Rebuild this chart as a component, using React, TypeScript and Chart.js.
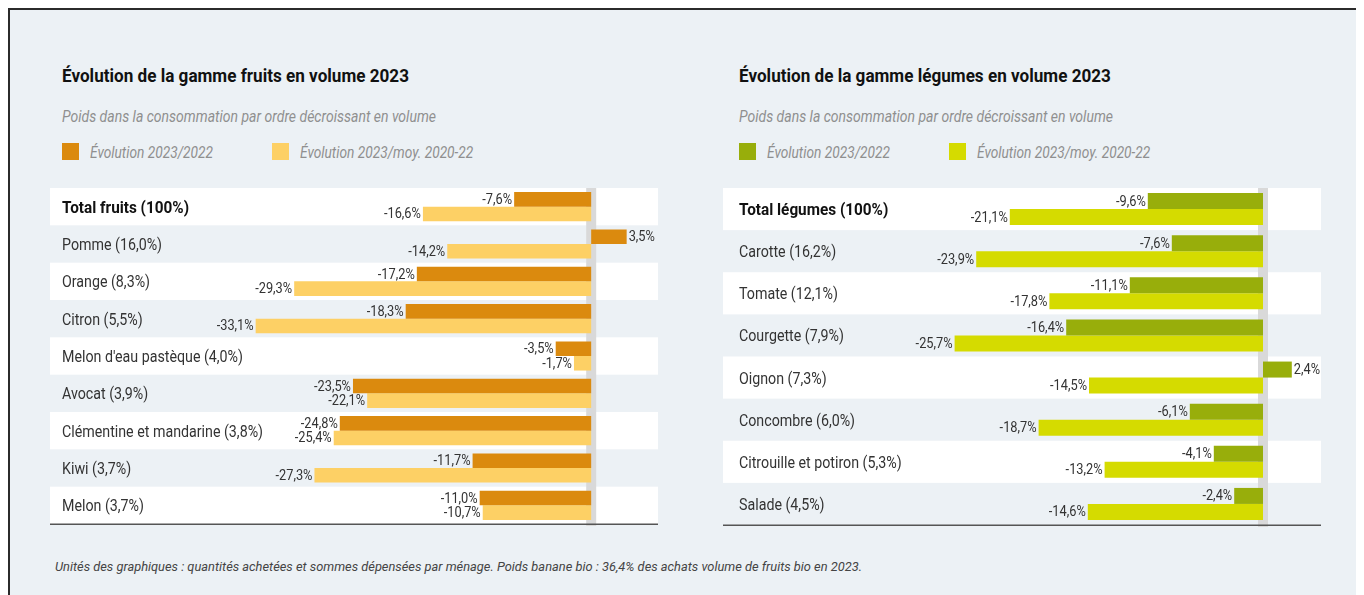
import React, { useEffect, useRef } from "react";
import { Chart, registerables } from "chart.js";

Chart.register(...registerables);

// ---------- DATA ----------
const fruitCategories = [
  "Total fruits (100%)",
  "Pomme (16,0%)",
  "Orange (8,3%)",
  "Citron (5,5%)",
  "Melon d'eau pastèque (4,0%)",
  "Avocat (3,9%)",
  "Clémentine et mandarine (3,8%)",
  "Kiwi (3,7%)",
  "Melon (3,7%)",
];
const fruitEvol2022 = [-7.6, 3.5, -17.2, -18.3, -3.5, -23.5, -24.8, -11.7, -11.0];
const fruitEvolAvg = [-16.6, -14.2, -29.3, -33.1, -1.7, -22.1, -25.4, -27.3, -10.7];

const vegCategories = [
  "Total légumes (100%)",
  "Carotte (16,2%)",
  "Tomate (12,1%)",
  "Courgette (7,9%)",
  "Oignon (7,3%)",
  "Concombre (6,0%)",
  "Citrouille et potiron (5,3%)",
  "Salade (4,5%)",
];
const vegEvol2022 = [-9.6, -7.6, -11.1, -16.4, 2.4, -6.1, -4.1, -2.4];
const vegEvolAvg = [-21.1, -23.9, -17.8, -25.7, -14.5, -18.7, -13.2, -14.6];

const seriesLabels = ["Évolution 2023/2022", "Évolution 2023/moy. 2020-22"];
const fruitTitle = "Évolution de la gamme fruits en volume 2023";
const vegTitle = "Évolution de la gamme légumes en volume 2023";
const subtitleText = "Poids dans la consommation par ordre décroissant en volume";
const footnoteText =
  "Unités des graphiques : quantités achetées et sommes dépensées par ménage. Poids banane bio : 36,4% des achats volume de fruits bio en 2023.";

// ---------- STYLE ----------
const FAM = 'Roboto, "DejaVu Sans", sans-serif';
const BG = "#ecf1f5";
const fruitColors = ["#db8a0e", "#fdd065"];
const vegColors = ["#98ae0b", "#d5db00"];

const TITLE_FONT = `bold 18px ${FAM}`;
const SUB_FONT = `italic 17px ${FAM}`;
const LABEL_FONT = `16px ${FAM}`;
const LABEL_BOLD = `bold 16px ${FAM}`;
const VALUE_FONT = `14px ${FAM}`;
const FOOT_FONT = `italic 13px ${FAM}`;

const fmt = (v: number) => v.toFixed(1).replace(".", ",") + "%";

// condensed look: horizontal scale factors measured from reference text widths
let _mctx: CanvasRenderingContext2D | null = null;
function measure(text: string, font: string) {
  if (!_mctx) _mctx = document.createElement("canvas").getContext("2d");
  _mctx!.font = font;
  return _mctx!.measureText(text).width;
}
function kFor(text: string, font: string, target: number) {
  return target / measure(text, font);
}

type PanelCfg = {
  categories: string[];
  s1: number[];
  s2: number[];
  colors: string[];
  width: number;
  height: number;
  padLeft: number;
  padRight: number;
  padTop: number;
  padBottom: number;
  labelX: number;
  xMin: number;
  xMax: number;
  bandWidth: number;
  catPct: number;
};

function BarPanel({ cfg, style }: { cfg: PanelCfg; style: React.CSSProperties }) {
  const ref = useRef<HTMLCanvasElement | null>(null);
  useEffect(() => {
    if (!ref.current) return;
    const kLabel = kFor("Clémentine et mandarine (3,8%)", LABEL_FONT, 201);
    const kBold = kFor("Total fruits (100%)", LABEL_BOLD, 127);
    const kValue = kFor("-16,6%", VALUE_FONT, 37);

    const scaledText = (ctx: any, text: string, x: number, y: number, k: number, align: string) => {
      ctx.save();
      ctx.translate(x, y);
      ctx.scale(k, 1);
      ctx.textAlign = align;
      ctx.fillText(text, 0, 0);
      ctx.restore();
    };

    const bandsPlugin = {
      id: "bands",
      beforeDraw(chart: any) {
        const { ctx, chartArea, scales } = chart;
        const n = chart.data.labels.length;
        const step = (chartArea.bottom - chartArea.top) / n;
        ctx.save();
        for (let i = 0; i < n; i++) {
          if (i % 2 === 0) {
            ctx.fillStyle = "#ffffff";
            ctx.fillRect(0, chartArea.top + i * step, cfg.bandWidth, step);
          }
        }
        const x0 = scales.x.getPixelForValue(0);
        ctx.fillStyle = "#d9d9d9";
        ctx.fillRect(x0 - 5, chartArea.top, 10, chartArea.bottom - chartArea.top + 2);
        ctx.fillStyle = "#555555";
        ctx.fillRect(0, chartArea.bottom - 0.5, cfg.bandWidth, 1.5);

        // category labels
        ctx.textBaseline = "middle";
        chart.data.labels.forEach((lab: string, i: number) => {
          const py = scales.y.getPixelForValue(i) + 2;
          ctx.font = i === 0 ? LABEL_BOLD : LABEL_FONT;
          ctx.fillStyle = i === 0 ? "#111111" : "#333333";
          scaledText(ctx, lab, cfg.labelX, py, i === 0 ? kBold : kLabel, "left");
        });
        ctx.restore();
      },
      afterDatasetsDraw(chart: any) {
        const ctx = chart.ctx;
        ctx.save();
        ctx.font = VALUE_FONT;
        ctx.fillStyle = "#333333";
        ctx.textBaseline = "middle";
        chart.data.datasets.forEach((ds: any, di: number) => {
          const meta = chart.getDatasetMeta(di);
          meta.data.forEach((el: any, i: number) => {
            const v = ds.data[i];
            const txt = fmt(v);
            if (v < 0) scaledText(ctx, txt, el.x - 2, el.y + 1, kValue, "right");
            else scaledText(ctx, txt, el.x + 2, el.y + 1, kValue, "left");
          });
        });
        ctx.restore();
      },
    };

    const chart = new Chart(ref.current, {
      type: "bar",
      data: {
        labels: cfg.categories,
        datasets: [
          {
            label: seriesLabels[0],
            data: cfg.s1,
            backgroundColor: cfg.colors[0],
            borderWidth: 0,
            categoryPercentage: cfg.catPct,
            barPercentage: 1,
          },
          {
            label: seriesLabels[1],
            data: cfg.s2,
            backgroundColor: cfg.colors[1],
            borderWidth: 0,
            categoryPercentage: cfg.catPct,
            barPercentage: 1,
          },
        ],
      },
      options: {
        indexAxis: "y",
        animation: false,
        responsive: false,
        maintainAspectRatio: false,
        devicePixelRatio: 1,
        layout: {
          padding: {
            left: cfg.padLeft,
            right: cfg.padRight,
            top: cfg.padTop,
            bottom: cfg.padBottom,
          },
        },
        plugins: {
          legend: { display: false },
          tooltip: { enabled: false },
          title: { display: false },
        },
        scales: {
          x: { display: false, min: cfg.xMin, max: cfg.xMax },
          y: { type: "category", display: false },
        },
      } as any,
      plugins: [bandsPlugin],
    });
    return () => chart.destroy();
  }, [cfg]);
  return (
    <canvas
      ref={ref}
      width={cfg.width}
      height={cfg.height}
      style={{ position: "absolute", width: cfg.width, height: cfg.height, ...style }}
    />
  );
}

const fruitCfg: PanelCfg = {
  categories: fruitCategories,
  s1: fruitEvol2022,
  s2: fruitEvolAvg,
  colors: fruitColors,
  width: 620,
  height: 346,
  padLeft: 156,
  padRight: 18,
  padTop: 4,
  padBottom: 6,
  labelX: 12,
  xMin: -38,
  xMax: 6,
  bandWidth: 608,
  catPct: 0.78,
};

const vegCfg: PanelCfg = {
  categories: vegCategories,
  s1: vegEvol2022,
  s2: vegEvolAvg,
  colors: vegColors,
  width: 615,
  height: 346,
  padLeft: 180,
  padRight: 21,
  padTop: 4,
  padBottom: 5,
  labelX: 16,
  xMin: -30,
  xMax: 4.5,
  bandWidth: 598,
  catPct: 0.76,
};

function Scaled({
  text,
  k,
  style,
}: {
  text: string;
  k: number;
  style: React.CSSProperties;
}) {
  return (
    <div
      style={{
        position: "absolute",
        whiteSpace: "nowrap",
        transform: `scaleX(${k})`,
        transformOrigin: "0 0",
        ...style,
      }}
    >
      {text}
    </div>
  );
}

function Header({ x, title, colors }: { x: number; title: string; colors: string[] }) {
  const kTitle = kFor(fruitTitle, TITLE_FONT, 347);
  const kSub = kFor(subtitleText, SUB_FONT, 374);
  const kLeg = kFor(seriesLabels[0], SUB_FONT, 123);
  const sub: React.CSSProperties = {
    fontSize: 17,
    lineHeight: "20px",
    fontStyle: "italic",
    fontWeight: "normal",
    color: "#8f8f8f",
  };
  return (
    <>
      <Scaled
        text={title}
        k={kTitle}
        style={{ left: x, top: 56, fontSize: 18, lineHeight: "20px", fontWeight: "bold", color: "#111" }}
      />
      <Scaled text={subtitleText} k={kSub} style={{ ...sub, left: x, top: 96 }} />
      <div style={{ position: "absolute", left: x, top: 133, width: 17, height: 17, background: colors[0] }} />
      <Scaled text={seriesLabels[0]} k={kLeg} style={{ ...sub, left: x + 28, top: 132 }} />
      <div style={{ position: "absolute", left: x + 210, top: 133, width: 17, height: 17, background: colors[1] }} />
      <Scaled text={seriesLabels[1]} k={kLeg} style={{ ...sub, left: x + 238, top: 132 }} />
    </>
  );
}

export default function App() {
  useEffect(() => {
    document.documentElement.style.overflow = "hidden";
    document.body.style.overflow = "hidden";
  }, []);
  const kFoot = kFor(footnoteText, FOOT_FONT, 807);
  return (
    <div
      style={{
        position: "relative",
        width: 1400,
        height: 600,
        background: BG,
        borderTop: "2px solid #2b2b2b",
        borderLeft: "2px solid #2b2b2b",
        fontFamily: FAM,
        overflow: "hidden",
      }}
    >
      <Header x={52} title={fruitTitle} colors={fruitColors} />
      <Header x={729} title={vegTitle} colors={vegColors} />
      <BarPanel cfg={fruitCfg} style={{ left: 40, top: 174 }} />
      <BarPanel cfg={vegCfg} style={{ left: 713, top: 174 }} />
      <Scaled
        text={footnoteText}
        k={kFoot}
        style={{
          left: 45,
          top: 549,
          fontSize: 13,
          lineHeight: "15px",
          fontStyle: "italic",
          fontWeight: "normal",
          color: "#444",
        }}
      />
    </div>
  );
}
